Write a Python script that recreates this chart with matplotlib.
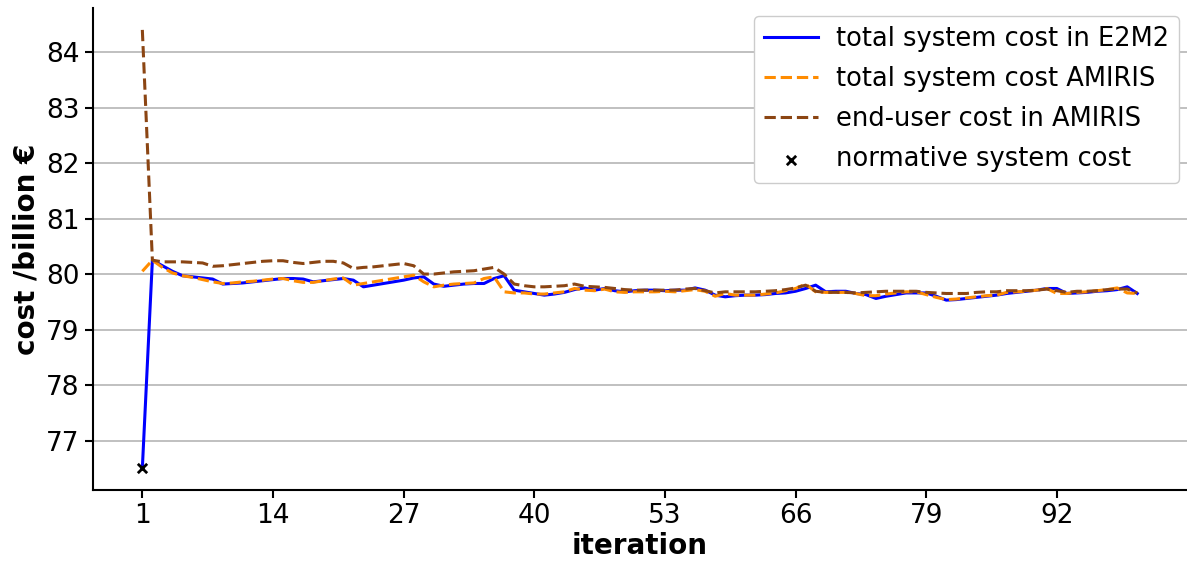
import numpy as np
import matplotlib.pyplot as plt

# iterations 1..100
iteration = list(range(1, 101))

cost_e2m2 = [
    76.50, 80.25, 80.15, 80.05, 79.97, 79.95, 79.93, 79.91, 79.82, 79.83,
    79.84, 79.86, 79.88, 79.90, 79.92, 79.92, 79.91, 79.86, 79.88, 79.90,
    79.92, 79.89, 79.77, 79.80, 79.83, 79.86, 79.89, 79.93, 79.95, 79.82,
    79.78, 79.80, 79.82, 79.83, 79.83, 79.92, 79.97, 79.71, 79.68, 79.65,
    79.62, 79.64, 79.67, 79.72, 79.75, 79.71, 79.74, 79.70, 79.68, 79.70,
    79.71, 79.71, 79.70, 79.71, 79.71, 79.75, 79.71, 79.62, 79.59, 79.61,
    79.62, 79.62, 79.63, 79.65, 79.66, 79.69, 79.74, 79.80, 79.68, 79.69,
    79.69, 79.65, 79.63, 79.56, 79.60, 79.63, 79.66, 79.66, 79.66, 79.60,
    79.53, 79.54, 79.56, 79.58, 79.60, 79.62, 79.65, 79.67, 79.69, 79.71,
    79.74, 79.74, 79.65, 79.66, 79.67, 79.69, 79.70, 79.72, 79.77, 79.65,
]

cost_amiris = [
    80.05, 80.25, 80.12, 80.02, 79.97, 79.94, 79.90, 79.86, 79.83, 79.84,
    79.86, 79.87, 79.89, 79.91, 79.92, 79.88, 79.85, 79.85, 79.88, 79.91,
    79.93, 79.80, 79.83, 79.86, 79.89, 79.92, 79.95, 79.98, 79.86, 79.77,
    79.80, 79.82, 79.83, 79.84, 79.92, 79.95, 79.68, 79.66, 79.66, 79.64,
    79.64, 79.66, 79.68, 79.74, 79.71, 79.70, 79.73, 79.68, 79.67, 79.68,
    79.68, 79.68, 79.69, 79.68, 79.70, 79.72, 79.69, 79.60, 79.65, 79.62,
    79.62, 79.62, 79.64, 79.66, 79.70, 79.74, 79.82, 79.68, 79.67, 79.67,
    79.67, 79.65, 79.61, 79.61, 79.64, 79.66, 79.68, 79.68, 79.63, 79.58,
    79.54, 79.55, 79.57, 79.59, 79.61, 79.62, 79.67, 79.68, 79.69, 79.71,
    79.74, 79.65, 79.65, 79.67, 79.68, 79.70, 79.72, 79.75, 79.66, 79.65,
]

cost_enduser = [
    84.40, 80.25, 80.22, 80.22, 80.22, 80.21, 80.20, 80.14, 80.15, 80.17,
    80.19, 80.21, 80.23, 80.24, 80.24, 80.21, 80.19, 80.21, 80.23, 80.23,
    80.20, 80.10, 80.12, 80.13, 80.15, 80.17, 80.19, 80.15, 80.00, 80.00,
    80.02, 80.04, 80.05, 80.06, 80.09, 80.12, 80.00, 79.82, 79.79, 79.77,
    79.77, 79.78, 79.79, 79.82, 79.78, 79.77, 79.76, 79.74, 79.72, 79.71,
    79.71, 79.71, 79.71, 79.71, 79.73, 79.74, 79.70, 79.66, 79.68, 79.68,
    79.68, 79.68, 79.69, 79.70, 79.72, 79.75, 79.80, 79.69, 79.67, 79.67,
    79.67, 79.66, 79.67, 79.68, 79.69, 79.69, 79.69, 79.69, 79.67, 79.66,
    79.65, 79.65, 79.65, 79.67, 79.68, 79.68, 79.70, 79.70, 79.70, 79.71,
    79.73, 79.70, 79.67, 79.69, 79.69, 79.70, 79.72, 79.73, 79.73, 79.66,
]

normative_iter = [1]
normative_cost = [76.5]

xtick_pos = list(range(1, 101, 13))
ytick_pos = list(range(77, 85))

fig = plt.figure(figsize=(11.87, 5.7), dpi=100)
ax = fig.add_axes([0.078, 0.14, 0.922, 0.846])

ax.plot(iteration, cost_e2m2, color='blue', lw=2.2, label='total system cost in E2M2')
ax.plot(iteration, cost_amiris, color='darkorange', lw=2.2, ls='--', label='total system cost AMIRIS')
ax.plot(iteration, cost_enduser, color='saddlebrown', lw=2.2, ls='--', label='end-user cost in AMIRIS')
ax.scatter(normative_iter, normative_cost, marker='x', color='black', s=45, lw=2,
           zorder=5, label='normative system cost')

ax.set_xticks(xtick_pos)
ax.set_yticks(ytick_pos)
ax.grid(axis='y', color='#bbbbbb', lw=1.3)
ax.set_axisbelow(True)
ax.spines['top'].set_visible(False)
ax.spines['right'].set_visible(False)
ax.spines['left'].set_linewidth(1.5)
ax.spines['bottom'].set_linewidth(1.5)
ax.tick_params(labelsize=19, width=1.5, length=6)

ax.set_xlabel('iteration', fontsize=20, fontweight='bold', labelpad=2)
ax.set_ylabel('cost /billion €', fontsize=20, fontweight='bold')

ax.legend(loc='upper right', fontsize=18.5, framealpha=1, borderaxespad=0.3,
          labelspacing=0.55, handlelength=2.1, handletextpad=0.7)

fig.savefig('out.png', dpi=100)
